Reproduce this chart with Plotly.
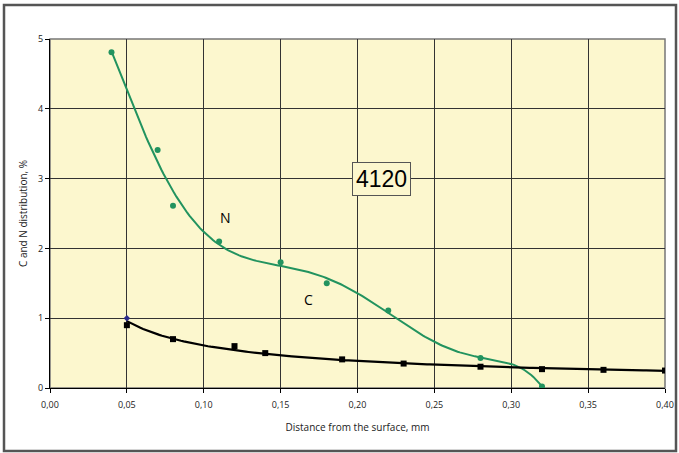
import numpy as np
import plotly.graph_objects as go

# Data
n_x = [0.04, 0.07, 0.08, 0.11, 0.15, 0.18, 0.22, 0.28, 0.32]
n_y = [4.81, 3.41, 2.61, 2.10, 1.80, 1.50, 1.11, 0.43, 0.02]
c_x = [0.05, 0.08, 0.12, 0.14, 0.19, 0.23, 0.28, 0.32, 0.36, 0.40]
c_y = [0.90, 0.70, 0.60, 0.50, 0.41, 0.35, 0.305, 0.27, 0.26, 0.25]
extra_x = [0.05]
extra_y = [1.0]
x_ticks = [0.00, 0.05, 0.10, 0.15, 0.20, 0.25, 0.30, 0.35, 0.40]
x_tick_labels = ["0,00", "0,05", "0,10", "0,15", "0,20", "0,25", "0,30", "0,35", "0,40"]
y_ticks = [0, 1, 2, 3, 4, 5]

GREEN = "#22935F"
W, H = 679, 453
L, R, T, B = 50, 14, 39, 65

# Trend lines fitted from the data
pn = np.polyfit(n_x, n_y, 6)
nx_fit = np.linspace(min(n_x), max(n_x), 200)
ny_fit = np.polyval(pn, nx_fit)

bc = np.polyfit(np.log(c_x), np.log(c_y), 1)
cx_fit = np.linspace(min(c_x), max(c_x), 200)
cy_fit = np.exp(np.polyval(bc, np.log(cx_fit)))

fig = go.Figure()
fig.add_trace(go.Scatter(x=nx_fit, y=ny_fit, mode="lines",
                         line=dict(color=GREEN, width=2), hoverinfo="skip"))
fig.add_trace(go.Scatter(x=n_x, y=n_y, mode="markers",
                         marker=dict(color=GREEN, size=6, symbol="circle")))
fig.add_trace(go.Scatter(x=cx_fit, y=cy_fit, mode="lines",
                         line=dict(color="black", width=2.2), hoverinfo="skip"))
fig.add_trace(go.Scatter(x=c_x, y=c_y, mode="markers",
                         marker=dict(color="black", size=6, symbol="square")))
fig.add_trace(go.Scatter(x=extra_x, y=extra_y, mode="markers",
                         marker=dict(color="#2B2B8C", size=5, symbol="diamond")))

fig.add_annotation(x=0.114, y=2.44, text="N", showarrow=False,
                   font=dict(size=14, color="black"))
fig.add_annotation(x=0.168, y=1.27, text="C", showarrow=False,
                   font=dict(size=14, color="black"))
fig.add_annotation(x=0.2155, y=3.0, text="4120", showarrow=False,
                   font=dict(size=23, color="black",
                             family="Liberation Sans, Arial, sans-serif"),
                   bordercolor="#555555", borderwidth=1, borderpad=3,
                   bgcolor="#FCF7CE")

pw, ph = W - L - R, H - T - B
fig.add_shape(type="rect", xref="paper", yref="paper",
              x0=(4 - L) / pw, x1=(676 - L) / pw,
              y0=(H - B - 451) / ph, y1=(H - B - 5) / ph,
              line=dict(color="#555555", width=2.5), layer="below")

fig.update_layout(
    width=W, height=H,
    margin=dict(l=L, r=R, t=T, b=B, autoexpand=False),
    paper_bgcolor="white",
    plot_bgcolor="#FCF7CE",
    showlegend=False,
    font=dict(family="Open Sans, Liberation Sans, sans-serif", color="#222222"),
)
fig.update_xaxes(range=[0, 0.40], tickvals=x_ticks, ticktext=x_tick_labels,
                 automargin=False, ticklabelstandoff=4,
                 showgrid=True, gridcolor="#333333", gridwidth=1,
                 showline=True, linecolor="black", linewidth=1, mirror=False,
                 ticks="outside", ticklen=4, tickcolor="black",
                 tickfont=dict(size=9),
                 title=dict(text="Distance from the surface, mm", font=dict(size=10), standoff=14),
                 zeroline=False)
fig.update_yaxes(range=[0, 5], tickvals=y_ticks, automargin=False,
                 showgrid=True, gridcolor="#333333", gridwidth=1,
                 showline=True, linecolor="black", linewidth=1,
                 ticks="outside", ticklen=4, tickcolor="black",
                 tickfont=dict(size=9),
                 title=dict(text="C and N distribution, %", font=dict(size=10), standoff=8),
                 zeroline=False)
fig.add_shape(type="rect", xref="paper", yref="paper", x0=0, x1=1, y0=0, y1=1,
              line=dict(color="#777777", width=1.5), layer="below")

fig.write_html("out.html", config={"displayModeBar": False},
               post_script="document.body.style.margin='0';document.body.style.overflow='hidden';")
